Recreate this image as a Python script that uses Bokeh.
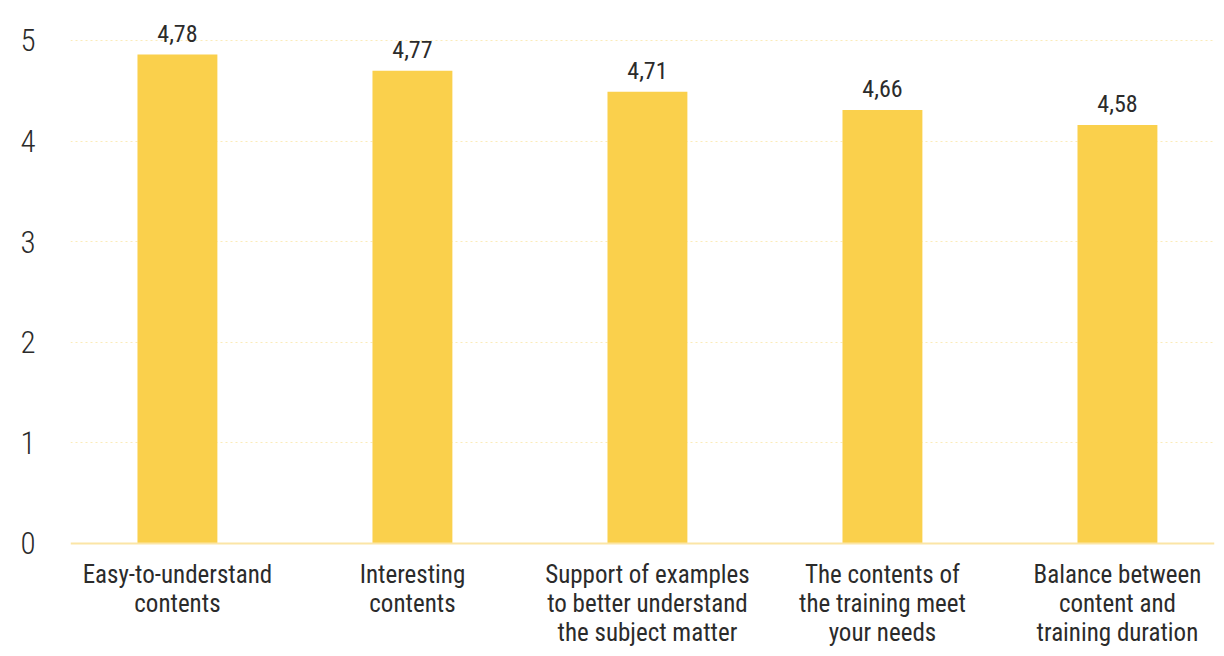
from bokeh.plotting import figure
from bokeh.models import ColumnDataSource, FixedTicker, Span
from bokeh.core.properties import value
from bokeh.embed import file_html
from bokeh.resources import INLINE

categories = [
    "Easy-to-understand\ncontents",
    "Interesting\ncontents",
    "Support of examples\nto better understand\nthe subject matter",
    "The contents of\nthe training meet\nyour needs",
    "Balance between\ncontent and\ntraining duration",
]
# bar heights as drawn in the reference picture
bar_heights = [4.86, 4.70, 4.49, 4.31, 4.16]
# value labels printed above the bars
value_labels = ["4,78", "4,77", "4,71", "4,66", "4,58"]
y_ticks = [0, 1, 2, 3, 4, 5]

FONT = "Roboto Condensed, DejaVu Sans Condensed, sans-serif"
LIGHT = "Roboto Condensed Light, Roboto Condensed, DejaVu Sans Condensed, sans-serif"
TXT = "#2b2b2b"
BAR = "#FAD04C"

xs = list(range(len(categories)))
src = ColumnDataSource(dict(x=xs, top=bar_heights, lab=value_labels,
                            cat=categories, zero=[0] * len(xs)))

p = figure(width=1216, height=648, output_backend="svg", toolbar_location=None,
           x_range=(-0.455, 4.413), y_range=(-1.044, 5.298),
           min_border_left=70, min_border_right=2, min_border_top=10,
           min_border_bottom=0)
p.outline_line_color = None
p.background_fill_color = "white"
p.xaxis.visible = False

p.vbar(x="x", top="top", bottom=0, width=0.34, source=src, color=BAR, line_color=None)
p.text(x="x", y="top", text="lab", source=src, text_align="center",
       text_baseline="bottom", y_offset=-13, text_font=value(FONT),
       text_font_size="24px", text_color=TXT)
p.text(x="x", y="zero", text="cat", source=src, text_align="center",
       text_baseline="top", y_offset=17, text_font=value(FONT),
       text_font_size="25px", text_color=TXT, text_line_height=1.0)

p.xgrid.visible = False
p.ygrid.ticker = FixedTicker(ticks=[1, 2, 3, 4, 5])
p.ygrid.grid_line_color = "#FBEBB8"
p.ygrid.grid_line_dash = "2 3"
p.ygrid.grid_line_width = 1

base = Span(location=0, dimension="width", line_color="#FBE5A6", line_width=2)
p.add_layout(base)

p.yaxis.ticker = FixedTicker(ticks=y_ticks)
p.yaxis.axis_line_color = None
p.yaxis.major_tick_line_color = None
p.yaxis.minor_tick_line_color = None
p.yaxis.major_label_standoff = 29
p.yaxis.major_label_text_font = LIGHT
p.yaxis.major_label_text_font_size = "31px"
p.yaxis.major_label_text_color = TXT

open("out.html", "w").write(file_html(p, INLINE))
